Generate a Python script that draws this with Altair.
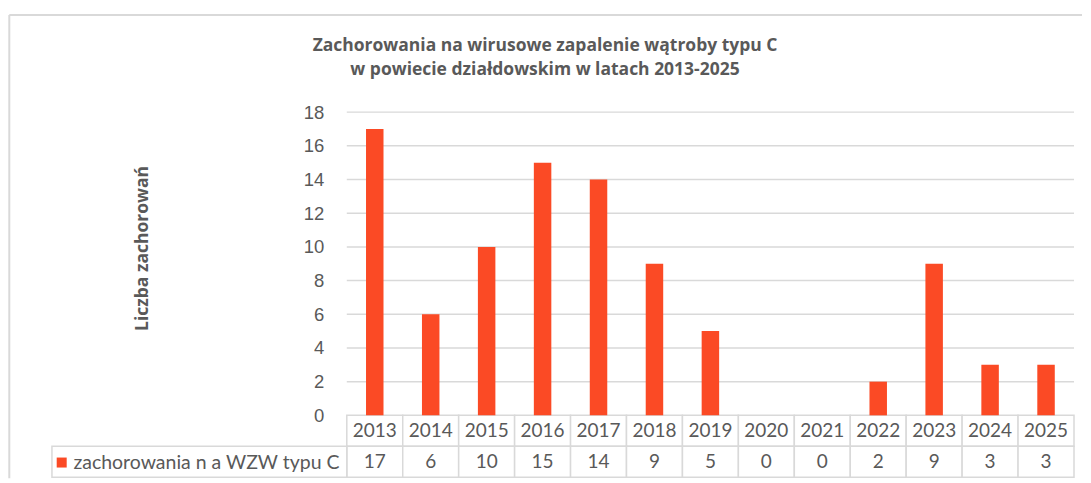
import altair as alt
import pandas as pd

# ---------------- data ----------------
years = ["2013", "2014", "2015", "2016", "2017", "2018", "2019",
         "2020", "2021", "2022", "2023", "2024", "2025"]
cases = [17, 6, 10, 15, 14, 9, 5, 0, 0, 2, 9, 3, 3]
series_name = "zachorowania n a WZW typu C"
title_lines = ["Zachorowania na wirusowe zapalenie wątroby typu C",
               "w powiecie działdowskim w latach 2013-2025"]
y_title = "Liczba zachorowań"
y_ticks = [0, 2, 4, 6, 8, 10, 12, 14, 16, 18]

# ---------------- styling / layout ----------------
BAR = "#FB4A25"
GRID = "#D9D9D9"
TXT = "#595959"
COL_PX = 56.54          # width of one table column
LEG_PX = 298            # width of the legend column of the data table
ROW_PX = 31             # height of one table row
PLOT_H = 365.5          # from the 18 gridline to the table bottom
Y_MAX = 18

n = len(years)
PLOT_W = LEG_PX + n * COL_PX
ppu = (PLOT_H - 2 * ROW_PX) / Y_MAX
row_u = ROW_PX / ppu
leg_u = LEG_PX / COL_PX

df = pd.DataFrame({"year": years, "cases": cases, "series": series_name})
df["c0"] = list(range(n))
df["c1"] = df["c0"] + 1
df["cm"] = df["c0"] + 0.5
df["zero"] = 0.0
df["r1"] = -row_u
df["r2"] = -2 * row_u
df["rm1"] = -row_u / 2
df["rm2"] = -1.5 * row_u

grid_df = pd.DataFrame({"v": y_ticks[1:]})
grid_df["x0"] = 0
grid_df["x1"] = n

leg_df = pd.DataFrame({"x0": [-leg_u], "x1": [0], "r1": [-row_u], "r2": [-2 * row_u]})

xs = alt.Scale(domain=[-leg_u, n], nice=False, zero=False)
ys = alt.Scale(domain=[-2 * row_u, Y_MAX], nice=False, zero=False)

yaxis = alt.Axis(values=y_ticks, offset=-LEG_PX, domain=False, ticks=False, grid=False,
                 labelFont="Liberation Sans", labelFontSize=18.5, labelColor=TXT,
                 labelPadding=21,
                 title=y_title, titleFont="Open Sans", titleFontSize=17.5, titleFontWeight="bold",
                 titleColor=TXT, titleX=-202, titleY=136, titleAngle=270,
                 titleBaseline="middle", titleAlign="center")


def X(f):
    return alt.X(f, scale=xs, axis=None)


def Y(f):
    return alt.Y(f, scale=ys, axis=yaxis)


grid = alt.Chart(grid_df).mark_rule(color=GRID, strokeWidth=1.5).encode(
    x=X("x0:Q"), x2="x1:Q", y=Y("v:Q"))

bars = alt.Chart(df).mark_bar(size=17.5).encode(
    x=X("cm:Q"), y=Y("cases:Q"), y2="zero:Q",
    color=alt.Color("series:N", scale=alt.Scale(domain=[series_name], range=[BAR]),
                    legend=alt.Legend(title=None, orient="none", legendX=5, legendY=341,
                                      symbolType="square", symbolSize=100,
                                      symbolStrokeWidth=0, labelFont="Lato",
                                      labelFontSize=19.5, labelColor=TXT, labelOffset=2,
                                      padding=0, labelLimit=400)))

cell = dict(fill="white", stroke=GRID, strokeWidth=1.5)
head_cells = alt.Chart(df).mark_rect(**cell).encode(
    x=X("c0:Q"), x2="c1:Q", y=Y("zero:Q"), y2="r1:Q")
data_cells = alt.Chart(df).mark_rect(**cell).encode(
    x=X("c0:Q"), x2="c1:Q", y=Y("r1:Q"), y2="r2:Q")
leg_cell = alt.Chart(leg_df).mark_rect(**cell).encode(
    x=X("x0:Q"), x2="x1:Q", y=Y("r1:Q"), y2="r2:Q")

txt = dict(font="Lato", fontSize=19, color=TXT, baseline="middle")
year_txt = alt.Chart(df).mark_text(**txt).encode(x=X("cm:Q"), y=Y("rm1:Q"), text="year:N")
val_txt = alt.Chart(df).mark_text(**txt).encode(x=X("cm:Q"), y=Y("rm2:Q"), text="cases:Q")

one = pd.DataFrame({"k": [0]})
frame_left = alt.Chart(one).mark_rule(color=GRID, strokeWidth=2).encode(
    x=alt.value(-37.7), y=alt.value(-97.2), y2=alt.value(PLOT_H + 1))
frame_top = alt.Chart(one).mark_rule(color=GRID, strokeWidth=2).encode(
    x=alt.value(-37.7), x2=alt.value(1083 - 47), y=alt.value(-97.2))

chart = alt.layer(frame_left, frame_top, grid, head_cells, data_cells, leg_cell,
                  bars, year_txt, val_txt).properties(
    width=PLOT_W, height=PLOT_H,
    padding={"left": 0, "top": 5, "right": 0, "bottom": 0},
    title=alt.TitleParams(text=title_lines, font="Open Sans", fontSize=17.5, fontWeight="bold",
                          color=TXT, anchor="middle", dx=-18, offset=-65, lineHeight=24,
                          frame="group"),
).configure_view(strokeWidth=0)

chart.save("out.html", embed_options={"renderer": "svg", "actions": False})
